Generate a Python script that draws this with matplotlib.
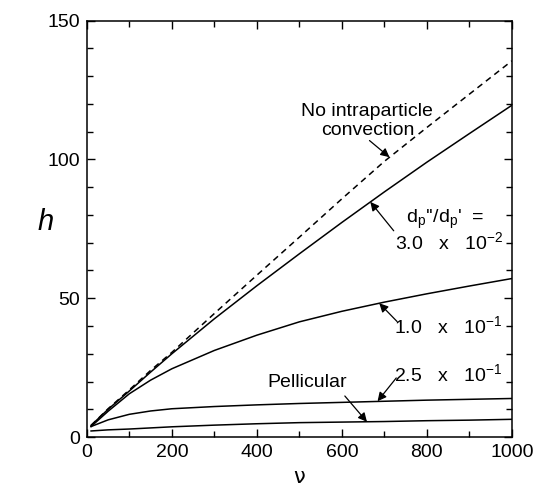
import matplotlib
matplotlib.use("Agg")
import matplotlib.pyplot as plt
from matplotlib.ticker import MultipleLocator

plt.rcParams['font.family'] = ['Liberation Sans', 'DejaVu Sans']
plt.rcParams['mathtext.fontset'] = 'custom'
plt.rcParams['mathtext.rm'] = 'Liberation Sans'

# reduced velocity (nu) and plate height (h)
nu = [10, 50, 100, 150, 200, 300, 400, 500, 600, 700, 800, 900, 1000]
h_no_conv = [4.2, 10.2, 17.0, 24.0, 30.5, 44.5, 58.3, 72.0, 85.8, 99.3, 111.5, 123.5, 135.5]
h_3e2 = [4.2, 10.0, 16.6, 23.4, 30.0, 42.6, 54.5, 66.0, 77.3, 88.3, 99.0, 109.3, 119.5]
h_1e1 = [3.8, 9.3, 15.6, 20.5, 24.6, 31.2, 36.7, 41.5, 45.3, 48.6, 51.6, 54.4, 57.1]
h_25e1 = [3.8, 6.2, 8.2, 9.4, 10.2, 11.0, 11.6, 12.1, 12.5, 12.9, 13.3, 13.6, 13.9]
h_pell = [2.2, 2.6, 2.9, 3.3, 3.7, 4.3, 4.8, 5.2, 5.4, 5.6, 5.9, 6.1, 6.4]

fig = plt.figure(figsize=(5.36, 4.9), dpi=100)
ax = fig.add_axes([0.162, 0.108, 0.793, 0.850])

ax.plot(nu, h_no_conv, color='k', lw=1.1, dashes=(4, 3))
ax.plot(nu, h_3e2, color='k', lw=1.1)
ax.plot(nu, h_1e1, color='k', lw=1.1)
ax.plot(nu, h_25e1, color='k', lw=1.1)
ax.plot(nu, h_pell, color='k', lw=1.1)

ax.set_xlim(0, 1000)
ax.set_ylim(0, 150)
ax.xaxis.set_major_locator(MultipleLocator(200))
ax.xaxis.set_minor_locator(MultipleLocator(100))
ax.yaxis.set_major_locator(MultipleLocator(50))
ax.yaxis.set_minor_locator(MultipleLocator(10))
ax.tick_params(which='both', direction='in', top=True, right=True, labelsize=14)
ax.tick_params(which='major', length=6, width=1, pad=5)
ax.tick_params(which='minor', length=4, width=1)
for s in ax.spines.values():
    s.set_linewidth(1.1)

ax.set_xlabel("ν", fontsize=15, labelpad=4, family=['DejaVu Sans'])
ax.set_ylabel("h", fontsize=21, style='italic', rotation=0, va='center', ha='center')
ax.yaxis.set_label_coords(-0.097, 0.516)

arrow = dict(arrowstyle='-|>', color='k', lw=0.9, mutation_scale=13, shrinkA=0, shrinkB=0)
fs = 14

ax.text(660, 113.7, "No intraparticle\nconvection", ha='center', va='center', fontsize=fs, linespacing=1.15)
ax.annotate('', xy=(712, 100.8), xytext=(665, 106.8), arrowprops=arrow)

ax.text(842, 78.3, r"d$_\mathregular{p}$''/d$_\mathregular{p}$'  =", ha='center', va='center', fontsize=fs)
ax.text(853, 70.0, r"3.0   x   10$^\mathregular{-2}$", ha='center', va='center', fontsize=fs)
ax.annotate('', xy=(667, 84.7), xytext=(722, 74.3), arrowprops=arrow)

ax.text(850, 39.6, r"1.0   x   10$^\mathregular{-1}$", ha='center', va='center', fontsize=fs)
ax.annotate('', xy=(688, 48.2), xytext=(730, 41.6), arrowprops=arrow)

ax.text(850, 22.5, r"2.5   x   10$^\mathregular{-1}$", ha='center', va='center', fontsize=fs)
ax.annotate('', xy=(684, 12.9), xytext=(728, 21.3), arrowprops=arrow)

ax.text(518, 19.5, "Pellicular", ha='center', va='center', fontsize=fs)
ax.annotate('', xy=(659, 5.5), xytext=(607, 14.8), arrowprops=arrow)

fig.savefig("out.png", dpi=100)
